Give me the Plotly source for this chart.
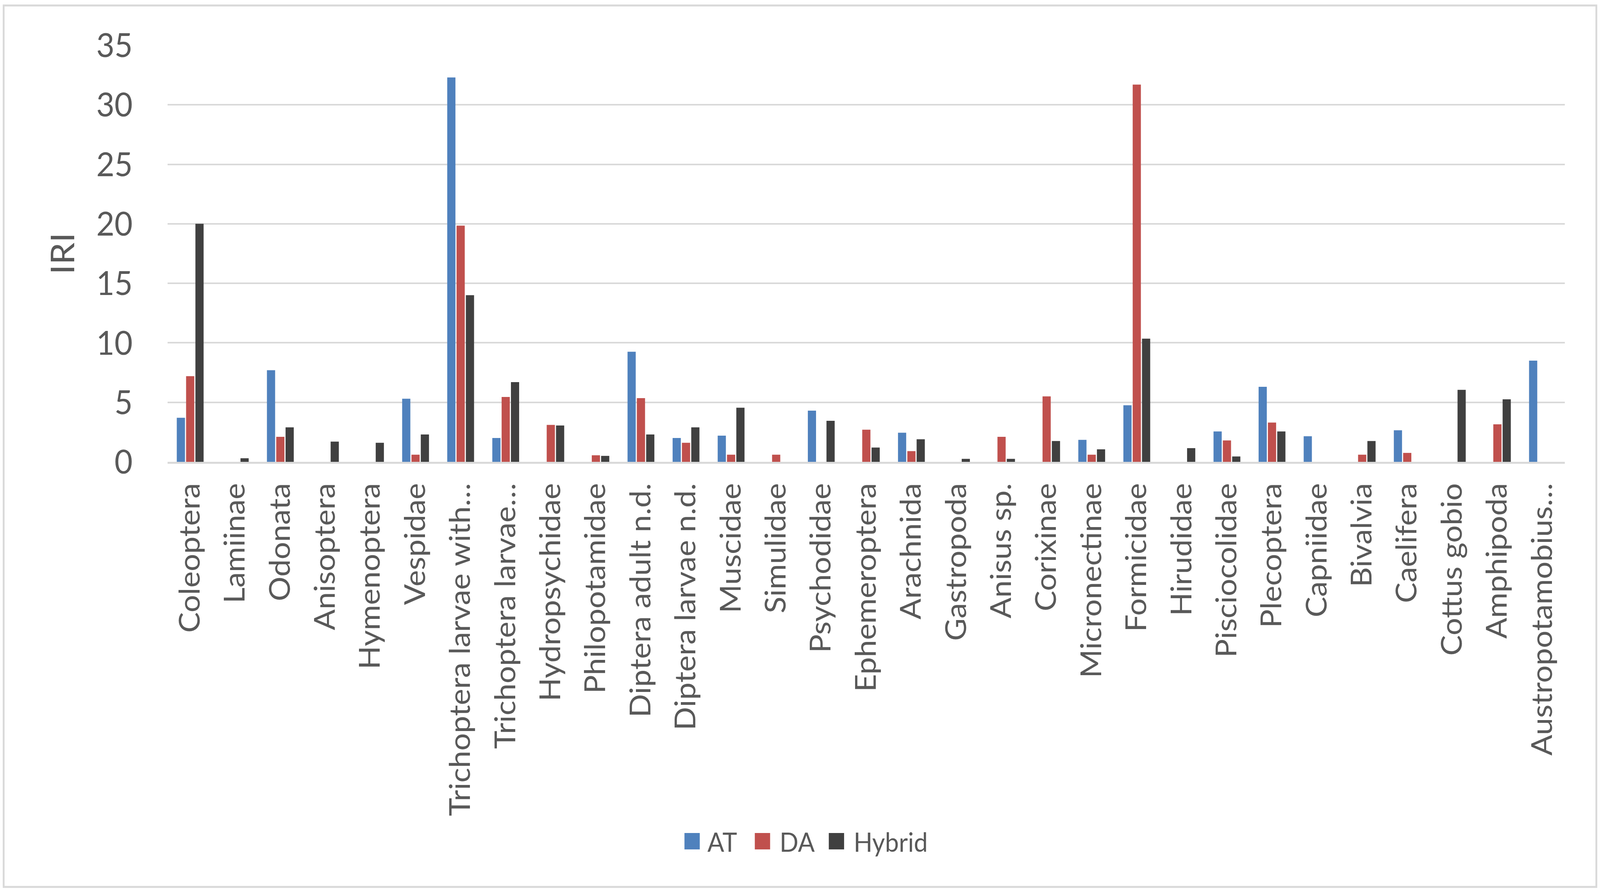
import plotly.graph_objects as go

categories = [
    "Coleoptera", "Lamiinae", "Odonata", "Anisoptera", "Hymenoptera", "Vespidae",
    "Trichoptera larvae with…", "Trichoptera larvae…", "Hydropsychidae", "Philopotamidae",
    "Diptera adult n.d.", "Diptera larvae n.d.", "Muscidae", "Simulidae", "Psychodidae",
    "Ephemeroptera", "Arachnida", "Gastropoda", "Anisus sp.", "Corixinae", "Micronectinae",
    "Formicidae", "Hirudidae", "Pisciocolidae", "Plecoptera", "Capniidae", "Bivalvia",
    "Caelifera", "Cottus gobio", "Amphipoda", "Austropotamobius…",
]
at = [3.7, None, 7.7, None, None, 5.3, 32.3, 2.0, None, None,
      9.25, 2.0, 2.2, None, 4.3, None, 2.45, None, None, None, 1.85,
      4.75, None, 2.55, 6.3, 2.15, None, 2.65, None, None, 8.5]
da = [7.2, None, 2.1, None, None, 0.6, 19.85, 5.45, 3.1, 0.55,
      5.35, 1.6, 0.6, 0.6, None, 2.7, 0.9, None, 2.1, 5.5, 0.6,
      31.7, None, 1.8, 3.3, None, 0.6, 0.75, None, 3.15, None]
hybrid = [20.0, 0.3, 2.9, 1.7, 1.6, 2.3, 14.0, 6.7, 3.05, 0.5,
          2.3, 2.9, 4.55, None, 3.45, 1.2, 1.9, 0.25, 0.25, 1.75, 1.05,
          10.35, 1.15, 0.45, 2.55, None, 1.75, None, 6.05, 5.25, None]
series_names = ["AT", "DA", "Hybrid"]
series_colors = ["#4F81BD", "#C0504D", "#404040"]
y_tick_values = [0, 5, 10, 15, 20, 25, 30, 35]
y_title = "IRI"

W, H = 4390, 2283
L, R, T, B = 460, 4294, 116, 1182
FONT = "Lato"
GRAY = "#595959"
GRID = "#D9D9D9"


def px(x):
    return (x - L) / (R - L)


def py(y):
    return (B - y) / (B - T)


fig = go.Figure()
for name, vals, col in zip(series_names, [at, da, hybrid], series_colors):
    fig.add_trace(go.Bar(x=categories, y=vals, name=name,
                         marker=dict(color=col, line=dict(width=0))))

fig.update_layout(
    width=W, height=H,
    margin=dict(l=L, r=W - R, t=T, b=H - B, pad=0),
    barmode="group", bargap=0.38, bargroupgap=0.12,
    plot_bgcolor="white", paper_bgcolor="white",
    font=dict(family=FONT, color=GRAY),
    showlegend=False,
)
fig.update_xaxes(
    type="category", tickangle=-90,
    tickfont=dict(size=79, color=GRAY, family=FONT),
    showline=True, linecolor=GRID, linewidth=5,
    showgrid=False, ticks="", ticklabelstandoff=18,
)
fig.update_yaxes(
    range=[0, 35], tickvals=y_tick_values,
    tickfont=dict(size=86, color=GRAY, family=FONT),
    showgrid=True, gridcolor=GRID, gridwidth=4,
    zeroline=False, showline=False, ticks="", ticklabelstandoff=95,
    title=dict(text=y_title, font=dict(size=90, color=GRAY, family=FONT), standoff=30),
)

# chart-area border
fig.add_shape(type="rect", xref="paper", yref="paper",
              x0=px(10), x1=px(4380), y0=py(2270), y1=py(14),
              line=dict(color=GRID, width=5), fillcolor="rgba(0,0,0,0)", layer="below")

# legend drawn with shapes + text
legend_items = [(1878, 1939), (2071, 2137), (2274, 2340)]
ly = 2153
sq = 42
for (sx, tx), name, col in zip(legend_items, series_names, series_colors):
    fig.add_shape(type="rect", xref="paper", yref="paper",
                  x0=px(sx), x1=px(sx + sq), y0=py(ly + sq / 2), y1=py(ly - sq / 2),
                  line=dict(width=0), fillcolor=col)
    fig.add_annotation(xref="paper", yref="paper", x=px(tx), y=py(ly),
                       xanchor="left", yanchor="middle", showarrow=False,
                       text=name, font=dict(size=68, color=GRAY, family=FONT))

# fit the fixed-size figure to the actual viewport
post = (
    "document.body.style.margin='0';"
    "document.body.style.overflow='hidden';"
    "var gd=document.getElementById('{plot_id}');"
    "var sx=window.innerWidth/%d, sy=window.innerHeight/%d;"
    "if (Math.abs(sx-1)>0.001 || Math.abs(sy-1)>0.001) {gd.style.transformOrigin='0 0';"
    "gd.style.transform='scale('+sx+','+sy+')';}" % (W, H)
)
fig.write_html("out.html", post_script=post, config={"displayModeBar": False})
